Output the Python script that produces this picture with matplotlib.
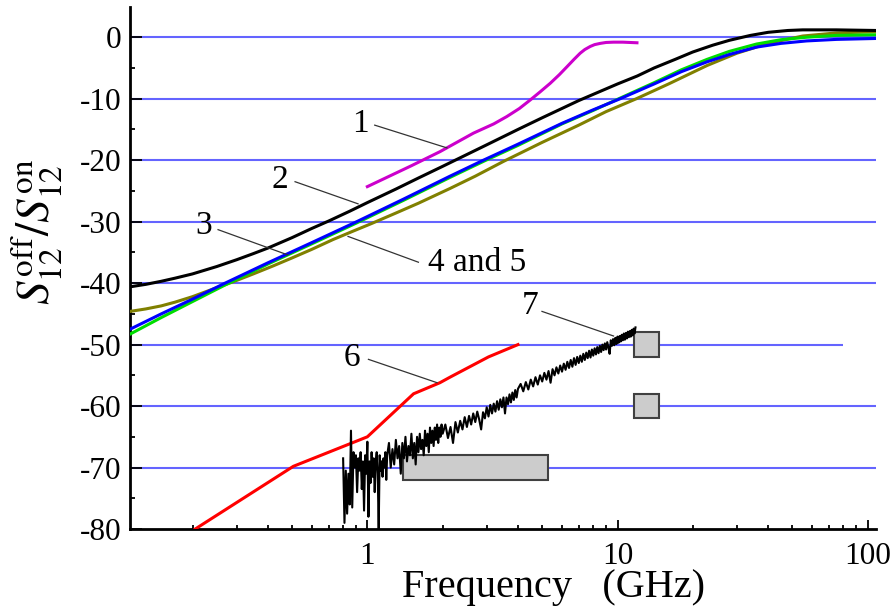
import matplotlib
matplotlib.use("Agg")
import matplotlib.pyplot as plt
from matplotlib.patches import Rectangle
from matplotlib.ticker import FixedLocator, LogLocator, NullFormatter

plt.rcParams["font.family"] = "Liberation Serif"
plt.rcParams["mathtext.fontset"] = "stix"
plt.rcParams["axes.unicode_minus"] = False

# curve 1 (magenta)
f1 = [1.0, 1.5, 1.954, 2.655, 3.2, 3.61, 4.05, 4.48, 4.9, 5.38, 5.85, 6.28, 6.7, 7.09, 7.4,
      7.78, 8.1, 8.53, 9.0, 9.64, 10.5, 11.96]
s1 = [-24.3, -20.9, -18.6, -15.6, -14.1, -12.9, -11.6, -10.2, -8.9, -7.5, -6.1, -4.8, -3.6,
      -2.6, -2.0, -1.5, -1.2, -1.0, -0.85, -0.8, -0.8, -0.9]

# curve 2 (black)
f2 = [0.1125, 0.13, 0.15, 0.17, 0.2, 0.25, 0.3, 0.35, 0.4, 0.5, 0.6, 0.7, 0.85, 1.0, 1.3,
      1.6, 2.0, 3.0, 4.0, 5.0, 7.0, 10.0, 12.0, 14.0, 17.0, 20.0, 24.0, 28.0, 34.0, 40.0,
      48.0, 55.0, 75.0, 108.0]
s2 = [-40.6, -40.2, -39.7, -39.2, -38.5, -37.3, -36.2, -35.2, -34.3, -32.6, -31.1, -29.9,
      -28.3, -26.9, -24.7, -22.9, -21.0, -17.5, -15.0, -13.1, -10.3, -7.6, -6.3, -5.0,
      -3.6, -2.4, -1.3, -0.5, 0.3, 0.8, 1.1, 1.2, 1.2, 1.1]

# curve 3 (olive)
f3 = [0.1125, 0.13, 0.15, 0.17, 0.2, 0.24, 0.29, 0.35, 0.42, 0.5, 0.6, 0.73, 0.87, 1.04,
      1.3, 1.6, 2.14, 2.7, 3.5, 5.0, 7.0, 9.0, 11.9, 16.0, 22.8, 30.0, 40.0, 55.0, 75.0, 108.0]
s3 = [-44.6, -44.2, -43.7, -43.1, -42.2, -41.0, -39.8, -38.5, -37.2, -35.9, -34.5, -32.9,
      -31.6, -30.3, -28.6, -27.0, -24.6, -22.6, -20.2, -17.1, -14.3, -12.1, -10.0, -7.6,
      -4.6, -2.6, -1.0, 0.2, 0.7, 0.9]

# curves 4 (blue) and 5 (green)
f45 = [0.1125, 0.15, 0.2, 0.27, 0.4, 0.6, 0.907, 1.4, 2.14, 2.91, 4.0, 6.0, 8.0, 10.25,
       14.0, 18.0, 22.8, 28.0, 36.0, 45.0, 57.0, 75.0, 108.0]
s4 = [-47.5, -45.0, -42.6, -40.0, -36.7, -33.4, -30.0, -26.3, -22.6, -20.0, -17.4, -14.0,
      -11.8, -10.0, -7.6, -5.6, -4.0, -2.8, -1.6, -1.0, -0.6, -0.35, -0.2]
s5 = [-48.3, -45.6, -43.0, -40.3, -36.9, -33.6, -30.2, -26.5, -22.8, -20.2, -17.6, -14.1,
      -11.9, -9.9, -7.4, -5.3, -3.6, -2.3, -1.1, -0.4, 0.0, 0.3, 0.4]

# curve 6 (red)
f6 = [0.205, 0.506, 1.0, 1.53, 1.95, 2.14, 3.05, 4.0]
s6 = [-80.0, -69.8, -65.0, -58.0, -56.2, -55.3, -52.0, -50.0]

# curve 7 (measured trace), (GHz, dB)
trace7 = [
    (0.80, -68.5), (0.81, -79.0), (0.82, -70.5), (0.83, -77.5), (0.84, -71.0), (0.85, -76.0),
    (0.86, -64.0), (0.87, -76.5), (0.88, -67.5), (0.89, -70.0), (0.90, -68.0), (0.91, -74.0),
    (0.92, -68.5), (0.93, -70.5), (0.94, -67.5), (0.95, -73.5), (0.96, -69.0), (0.97, -77.0),
    (0.98, -68.0), (0.99, -71.0), (1.00, -65.8), (1.01, -78.0), (1.02, -69.0), (1.03, -72.5),
    (1.04, -67.5), (1.05, -71.5), (1.06, -68.5), (1.07, -74.0), (1.08, -69.0), (1.09, -67.5),
    (1.10, -71.0), (1.11, -80.0), (1.12, -68.0), (1.13, -70.5), (1.14, -69.0), (1.15, -71.5),
    (1.16, -68.5), (1.17, -70.0), (1.18, -67.5), (1.19, -72.0), (1.20, -68.0),
    (1.22, -66.0), (1.24, -70.0), (1.26, -67.0), (1.28, -69.5), (1.30, -65.5), (1.32, -68.5),
    (1.34, -66.5), (1.36, -71.0), (1.38, -66.0), (1.40, -68.5), (1.42, -65.0), (1.44, -69.0),
    (1.46, -66.5), (1.48, -68.0), (1.50, -64.5), (1.52, -68.5), (1.54, -66.0), (1.56, -69.5),
    (1.58, -65.0), (1.60, -67.5), (1.62, -64.5), (1.64, -67.0), (1.66, -65.5), (1.68, -68.0),
    (1.70, -64.0), (1.72, -66.5), (1.74, -64.5), (1.76, -67.5), (1.78, -63.5), (1.80, -66.0),
    (1.82, -64.0), (1.84, -66.5), (1.86, -63.5), (1.88, -65.5), (1.90, -63.0), (1.92, -66.0),
    (1.94, -63.5), (1.96, -65.0), (1.98, -63.0), (2.00, -64.5),
    (2.05, -63.0), (2.10, -65.2), (2.15, -63.4), (2.20, -66.0), (2.25, -62.6), (2.30, -64.3),
    (2.35, -62.4), (2.40, -63.8), (2.45, -61.8), (2.50, -63.4), (2.55, -61.6), (2.60, -63.0),
    (2.65, -61.2), (2.70, -62.6), (2.75, -60.9), (2.80, -62.2), (2.85, -63.8), (2.90, -61.0),
    (2.95, -62.0), (3.00, -60.2), (3.05, -61.7), (3.10, -59.8), (3.15, -61.2), (3.20, -59.6),
    (3.25, -60.9), (3.30, -59.2), (3.35, -60.6), (3.40, -58.9), (3.45, -60.2), (3.50, -58.6),
    (3.55, -61.2), (3.60, -58.6), (3.65, -59.7), (3.70, -58.1), (3.75, -59.4), (3.80, -57.8),
    (3.85, -59.0), (3.90, -57.4), (3.95, -58.6), (4.00, -57.2),
    (4.1, -56.4), (4.2, -57.6), (4.3, -56.1), (4.4, -57.3), (4.5, -55.7), (4.6, -56.8),
    (4.7, -55.3), (4.8, -56.5), (4.9, -55.0), (5.0, -56.0), (5.1, -54.6), (5.2, -55.7),
    (5.3, -54.3), (5.4, -56.2), (5.5, -54.0), (5.6, -55.0), (5.7, -53.7), (5.8, -54.7),
    (5.9, -53.4), (6.0, -54.4), (6.1, -53.1), (6.2, -54.1), (6.3, -52.8), (6.4, -53.8),
    (6.5, -52.5), (6.6, -53.6), (6.7, -52.2), (6.8, -53.3), (6.9, -52.0), (7.0, -53.0),
    (7.1, -51.8), (7.2, -52.8), (7.3, -51.5), (7.4, -52.5), (7.5, -51.3), (7.6, -52.2),
    (7.7, -51.0), (7.8, -52.1), (7.9, -50.8), (8.0, -51.8), (8.1, -50.6), (8.2, -51.6),
    (8.3, -50.4), (8.4, -51.4), (8.5, -50.2), (8.6, -51.2), (8.7, -50.0), (8.8, -50.9),
    (8.9, -49.8), (9.0, -50.8), (9.1, -49.6), (9.2, -50.5), (9.3, -51.5), (9.4, -49.3),
    (9.5, -50.2), (9.6, -49.1), (9.7, -50.1), (9.8, -48.9), (9.9, -49.9), (10.0, -48.7),
    (10.1, -49.7), (10.2, -48.6), (10.3, -49.5), (10.4, -48.4), (10.5, -49.3), (10.6, -48.2),
    (10.7, -49.2), (10.8, -48.1), (10.9, -49.0), (11.0, -47.9), (11.1, -48.8), (11.2, -47.8),
    (11.3, -48.7), (11.4, -47.6), (11.5, -48.5), (11.6, -47.4), (11.7, -48.2), (11.8, -47.2),
]
f7 = [p[0] for p in trace7]
s7 = [p[1] for p in trace7]

# reference levels (blue lines) and where they end
levels = [0, -10, -20, -30, -40, -50, -60, -70]
level_ends = [108, 108, 108, 108, 108, 80, 108, 108]

# gray boxes: (f_low, f_high, s_low, s_high)
boxes = [(1.39, 5.27, -72.0, -68.0), (11.6, 14.6, -52.0, -48.0), (11.6, 14.6, -62.0, -58.0)]

# curve labels: text, label pos, leader start, leader end
labels = ["1", "2", "3", "4 and 5", "6", "7"]
label_pos = [(0.934, -14.0), (0.448, -23.2), (0.221, -30.6), (1.75, -36.7), (0.866, -52.1), (4.48, -43.7)]
leader_from = [(1.07, -14.3), (0.514, -23.5), (0.253, -31.3), (1.6, -36.6), (1.01, -52.4), (4.99, -44.6)]
leader_to = [(2.08, -18.0), (0.918, -27.1), (0.48, -35.4), (0.837, -32.4), (1.9, -56.2), (9.64, -48.6)]

fig = plt.figure(figsize=(8.96, 6.08), dpi=100)
ax = fig.add_axes([0.1451, 0.1299, 0.8326, 0.8594])
ax.set_xscale("log")
ax.set_xlim(0.1125, 108)
ax.set_ylim(-80, 5)

for lev, xe in zip(levels, level_ends):
    ax.hlines(lev, 0.1125, xe, color="#6464ff", lw=1.5, zorder=1)

for (x0, x1, y0, y1) in boxes:
    ax.add_patch(Rectangle((x0, y0), x1 - x0, y1 - y0, facecolor="#cccccc",
                           edgecolor="#404040", lw=1.5, zorder=2))

ax.plot(f3, s3, color="#808000", lw=2.2, zorder=3)
ax.plot(f45, s5, color="#00dd00", lw=2.2, zorder=3)
ax.plot(f45, s4, color="#0000ff", lw=2.2, zorder=4)
ax.plot(f2, s2, color="black", lw=2.2, zorder=5)
ax.plot(f1, s1, color="#cc00cc", lw=2.2, zorder=5)
ax.plot(f6, s6, color="#ff0000", lw=2.2, zorder=5)
ax.plot(f7, s7, color="black", lw=1.5, zorder=6)

for txt, p, a, b in zip(labels, label_pos, leader_from, leader_to):
    ha = "left" if txt == "4 and 5" else "center"
    ax.text(p[0], p[1], txt, fontsize=24, ha=ha, va="center", zorder=7)
    ax.plot([a[0], b[0]], [a[1], b[1]], color="#333333", lw=0.9, zorder=7)

ax.spines["top"].set_visible(False)
ax.spines["right"].set_visible(False)
ax.spines["left"].set_linewidth(2)
ax.spines["bottom"].set_linewidth(2)

ax.yaxis.set_major_locator(FixedLocator(list(range(-80, 1, 10))))
ax.yaxis.set_minor_locator(FixedLocator(list(range(-75, 0, 10))))
ax.xaxis.set_major_locator(FixedLocator([1, 10, 100]))
ax.xaxis.set_minor_locator(LogLocator(base=10, subs=range(2, 10)))
ax.xaxis.set_minor_formatter(NullFormatter())
ax.set_xticklabels(["1", "10", "100"])
ax.tick_params(axis="both", which="both", direction="in", width=1.3, labelsize=22.5)
ax.tick_params(axis="y", which="major", length=8.5, pad=6)
ax.tick_params(axis="y", which="minor", length=3.6)
ax.tick_params(axis="x", which="major", length=6.5, pad=9)
ax.tick_params(axis="x", which="minor", length=3.2)

ax.text(0.568, -0.131, "Frequency   (GHz)", transform=ax.transAxes, fontsize=29,
        ha="center", va="baseline")
ax.text(-0.125, 0.568, r"$S_{12}^{\rm off}/S_{12}^{\rm on}$", transform=ax.transAxes,
        fontsize=34, rotation=90, ha="center", va="center")

fig.savefig("out.png", dpi=100)
